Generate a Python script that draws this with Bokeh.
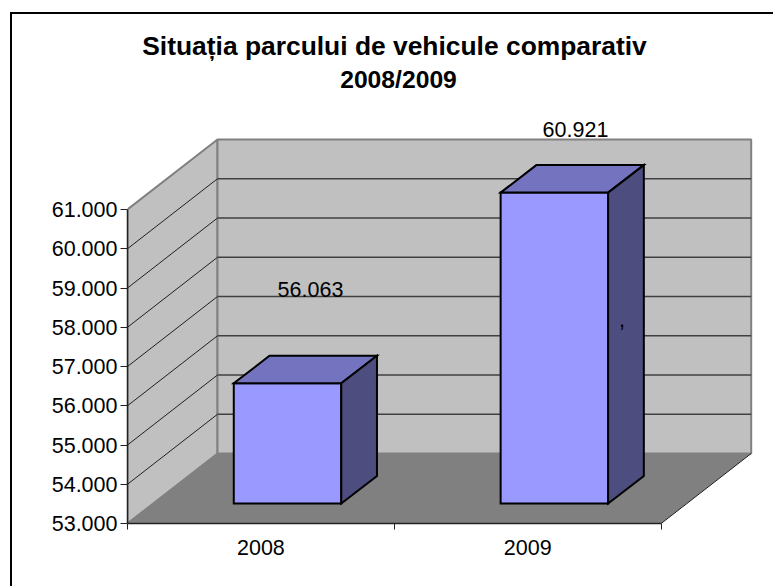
from bokeh.plotting import figure
from bokeh.embed import file_html
from bokeh.resources import INLINE
from bokeh.models import Range1d, FixedTicker, LinearAxis
from bokeh.core.properties import value

categories = ["2008", "2009"]
values = [56063, 60921]
value_labels = ["56.063", "60.921"]
y_ticks = [53000, 54000, 55000, 56000, 57000, 58000, 59000, 60000, 61000]
y_tick_labels = ["53.000", "54.000", "55.000", "56.000", "57.000", "58.000", "59.000", "60.000", "61.000"]
title_lines = ["Situația parcului de vehicule comparativ", "2008/2009"]

FONT = "Liberation Sans"
W, H = 773, 586
LEFT, BOTTOM_PX = 127, 523       # page pixel of the axes corner
PX_CAT = 266.85                  # pixels per category
PX_VAL = 39.25 / 1000            # pixels per value unit
FRAME_W, FRAME_H = W - LEFT, BOTTOM_PX
Y0 = y_ticks[0]

def xu(px): return px / PX_CAT   # horizontal pixels to category units
def yu(px): return px / PX_VAL   # vertical pixels to value units
def sx(px): return xu(px - LEFT)
def sy(py): return Y0 + yu(BOTTOM_PX - py)

p = figure(width=W, height=H, output_backend="svg", toolbar_location=None,
           x_range=Range1d(0, FRAME_W / PX_CAT), y_range=Range1d(Y0, Y0 + FRAME_H / PX_VAL),
           min_border_left=LEFT, min_border_right=0, min_border_top=0,
           min_border_bottom=H - FRAME_H, x_axis_type=None, y_axis_type=None)
p.outline_line_color = None
p.grid.visible = False
p.background_fill_color = None
p.border_fill_color = None
# chart-area border: only its left and top edges are inside the picture
p.styles = {
    "background-color": "white",
    "background-image": "linear-gradient(black,black),linear-gradient(black,black)",
    "background-size": "2px 574px,763px 2px",
    "background-position": "10px 12px,10px 12px",
    "background-repeat": "no-repeat",
}

D_X, D_Y = xu(90), yu(70)
N = len(categories)
TOP = y_ticks[-1]

# walls
p.patch([0, D_X, D_X, 0], [Y0, Y0 + D_Y, TOP + D_Y, TOP], fill_color="#C0C0C0", line_color="#808080", line_width=2)
p.patch([D_X, N + D_X, N + D_X, D_X], [Y0 + D_Y, Y0 + D_Y, TOP + D_Y, TOP + D_Y],
        fill_color="#C0C0C0", line_color="#808080", line_width=2)
# floor
p.patch([0, N, N + D_X, D_X], [Y0, Y0, Y0 + D_Y, Y0 + D_Y], fill_color="#808080", line_color=None)
p.line([N, N + D_X], [Y0, Y0 + D_Y], line_color="#222222", line_width=1)

# gridlines
for t in y_ticks[1:-1]:
    p.line([0, D_X], [t, t + D_Y], line_color="#202020", line_width=1)
    p.line([D_X, N + D_X], [t + D_Y, t + D_Y], line_color="#404040", line_width=1.5)

# bars
BAR_W = xu(107.5)
FX, FY = xu(26.6), yu(20)
BX, BY = xu(35.7), yu(27.5)
for i, v in enumerate(values):
    x0 = i + 0.5 - BAR_W / 2 + FX
    x1 = x0 + BAR_W
    y0 = Y0 + FY
    y1 = v + FY
    p.patch([x0, x1, x1, x0], [y0, y0, y1, y1], fill_color="#9999FF", line_color="black", line_width=2, line_join="miter")
    p.patch([x0, x1, x1 + BX, x0 + BX], [y1, y1, y1 + BY, y1 + BY], fill_color="#7373BF", line_color="black", line_width=2, line_join="miter")
    p.patch([x1, x1 + BX, x1 + BX, x1], [y0, y0 + BY, y1 + BY, y1], fill_color="#4D4D80", line_color="black", line_width=2, line_join="miter")

# value labels
text_kw = dict(text_font=value(FONT), text_align="center", text_baseline="middle", text_color="black")
p.text(x=[sx(310), sx(575)], y=[sy(289), sy(129)], text=value_labels, text_font_size="21.5px", **text_kw)
p.text(x=[sx(621.5)], y=[sy(319)], text=[","], text_font_size="21.5px", **text_kw)

# title
p.text(x=[sx(394)], y=[sy(45)], text=title_lines[:1], text_font_size="26.4px", text_font_style="bold", **text_kw)
p.text(x=[sx(398)], y=[sy(79)], text=title_lines[1:], text_font_size="24.7px", text_font_style="bold", **text_kw)

# axes
yax = LinearAxis(ticker=FixedTicker(ticks=y_ticks), bounds=(y_ticks[0], y_ticks[-1]),
                 major_label_overrides={t: s for t, s in zip(y_ticks, y_tick_labels)},
                 major_tick_out=7, major_tick_in=0, minor_tick_out=0, minor_tick_in=0,
                 major_label_standoff=3, major_label_text_font=FONT, major_label_text_font_size="21.5px",
                 major_label_text_color="black", axis_line_color="#222222", axis_line_width=1.5,
                 major_tick_line_color="#222222")
p.add_layout(yax, "left")
xax = LinearAxis(ticker=FixedTicker(ticks=[i + 0.5 for i in range(N)], minor_ticks=list(range(N + 1))),
                 bounds=(0, N),
                 major_label_overrides={i + 0.5: c for i, c in enumerate(categories)},
                 major_tick_out=0, major_tick_in=0, minor_tick_out=6, minor_tick_in=0,
                 major_label_standoff=10, major_label_text_font=FONT, major_label_text_font_size="21.5px",
                 major_label_text_color="black", axis_line_color="#222222", axis_line_width=1.5,
                 minor_tick_line_color="#222222")
p.add_layout(xax, "below")

open("out.html", "w").write(file_html(p, INLINE))
